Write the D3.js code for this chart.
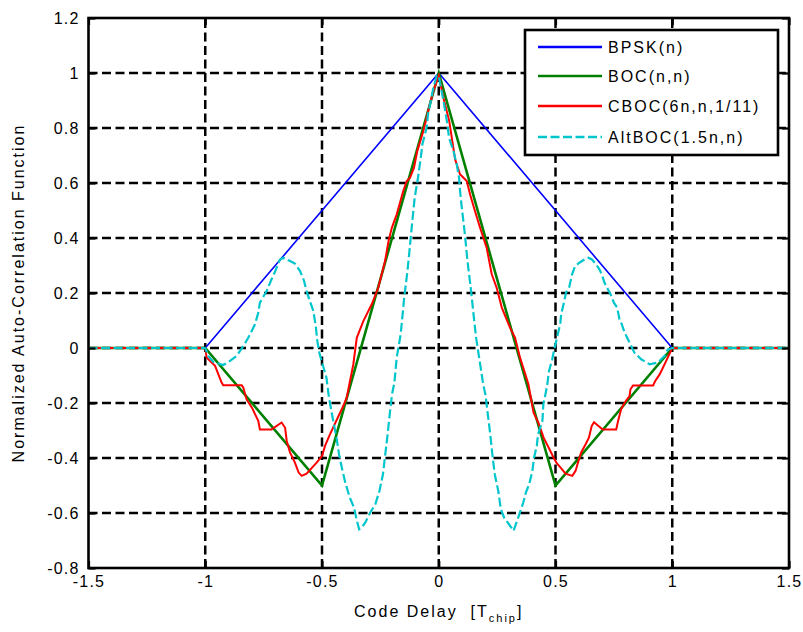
<!DOCTYPE html>
<html>
<head>
<meta charset="utf-8">
<script src="https://cdn.jsdelivr.net/npm/d3@7"></script>
<style>
  body { margin: 0; background: #fff; }
  svg text { font-family: "Liberation Sans", Arial, sans-serif; fill: #000; }
</style>
</head>
<body>
<div id="chart"></div>
<script>
// tick values as drawn on the axes
const xTicks = [-1.5, -1, -0.5, 0, 0.5, 1, 1.5];
const yTicks = [-0.8, -0.6, -0.4, -0.2, 0, 0.2, 0.4, 0.6, 0.8, 1, 1.2];

const seriesNames = ["BPSK(n)", "BOC(n,n)", "CBOC(6n,n,1/11)", "AltBOC(1.5n,n)"];

// [code delay, normalized ACF]
const bpskPts = [[-1.5, 0], [-1, 0], [0, 1], [1, 0], [1.5, 0]];

const bocPts = [[-1.5, 0], [-1, 0], [-0.5, -0.5], [0, 1], [0.5, -0.5], [1, 0], [1.5, 0]];

const cbocPts = [
  [-1.5, 0], [-1.0, 0], [-0.994, -0.035], [-0.958, -0.065], [-0.93, -0.126], [-0.923, -0.135],
  [-0.844, -0.135], [-0.837, -0.144], [-0.823, -0.187], [-0.80, -0.217], [-0.773, -0.265],
  [-0.766, -0.296], [-0.716, -0.296], [-0.673, -0.271], [-0.658, -0.29], [-0.651, -0.338],
  [-0.637, -0.38], [-0.616, -0.417], [-0.60, -0.453], [-0.587, -0.465], [-0.566, -0.457],
  [-0.523, -0.417], [-0.50, -0.393], [-0.487, -0.356], [-0.466, -0.314], [-0.409, -0.211],
  [-0.394, -0.18], [-0.366, -0.06], [-0.351, 0.037], [-0.323, 0.098], [-0.287, 0.159],
  [-0.259, 0.219], [-0.230, 0.316], [-0.215, 0.389], [-0.201, 0.437], [-0.180, 0.486],
  [-0.152, 0.571], [-0.137, 0.607], [-0.123, 0.619], [-0.106, 0.656], [-0.092, 0.716],
  [-0.066, 0.789], [-0.052, 0.837], [-0.040, 0.88], [-0.023, 0.935], [0, 0.99],
  [0.02, 0.91], [0.045, 0.825], [0.07, 0.686], [0.091, 0.632], [0.12, 0.607], [0.134, 0.559],
  [0.155, 0.498], [0.177, 0.437], [0.205, 0.365], [0.227, 0.268], [0.248, 0.219], [0.27, 0.147],
  [0.305, 0.074], [0.327, 0.037], [0.348, -0.035], [0.362, -0.072], [0.384, -0.132],
  [0.406, -0.235], [0.427, -0.272], [0.449, -0.326], [0.471, -0.363], [0.492, -0.399],
  [0.506, -0.42], [0.52, -0.433], [0.543, -0.457], [0.572, -0.465], [0.586, -0.447],
  [0.596, -0.417], [0.61, -0.38], [0.629, -0.35], [0.643, -0.326], [0.655, -0.284],
  [0.665, -0.27], [0.702, -0.296], [0.76, -0.296], [0.768, -0.265], [0.781, -0.223],
  [0.796, -0.199], [0.817, -0.175], [0.821, -0.15], [0.832, -0.136], [0.918, -0.136],
  [0.927, -0.12], [0.946, -0.096], [0.96, -0.072], [0.974, -0.047], [1.0, 0], [1.5, 0]
];

const altbocPts = [
  [-1.5, 0], [-1.0, 0], [-0.987, -0.029], [-0.966, -0.05], [-0.923, -0.062], [-0.894, -0.047],
  [-0.866, -0.029], [-0.837, 0.007], [-0.816, 0.037], [-0.801, 0.062], [-0.787, 0.086],
  [-0.773, 0.128], [-0.766, 0.165], [-0.737, 0.207], [-0.716, 0.25], [-0.70, 0.28],
  [-0.68, 0.322], [-0.666, 0.328], [-0.637, 0.316], [-0.616, 0.307], [-0.594, 0.28],
  [-0.577, 0.244], [-0.566, 0.207], [-0.552, 0.171], [-0.537, 0.135], [-0.526, 0.074],
  [-0.52, 0.025], [-0.51, -0.023], [-0.493, -0.072], [-0.481, -0.108], [-0.47, -0.181],
  [-0.452, -0.265], [-0.438, -0.326], [-0.427, -0.387], [-0.412, -0.447], [-0.40, -0.49],
  [-0.381, -0.544], [-0.363, -0.58], [-0.352, -0.623], [-0.341, -0.659], [-0.33, -0.653],
  [-0.315, -0.635], [-0.294, -0.599], [-0.272, -0.569], [-0.254, -0.52], [-0.239, -0.459],
  [-0.229, -0.387], [-0.219, -0.314], [-0.21, -0.241], [-0.20, -0.168], [-0.19, -0.126],
  [-0.18, -0.035], [-0.163, 0.05], [-0.148, 0.183], [-0.134, 0.28], [-0.124, 0.365],
  [-0.116, 0.437], [-0.103, 0.547], [-0.089, 0.619], [-0.077, 0.692], [-0.07, 0.741],
  [-0.052, 0.801], [-0.046, 0.85], [-0.034, 0.898], [-0.023, 0.947], [-0.009, 0.989], [0, 0.99],
  [0.012, 0.935], [0.023, 0.886], [0.037, 0.813], [0.044, 0.765], [0.063, 0.716], [0.077, 0.668],
  [0.087, 0.619], [0.09, 0.583], [0.097, 0.523], [0.112, 0.413], [0.123, 0.316], [0.137, 0.219],
  [0.149, 0.122], [0.16, 0.037], [0.173, -0.035], [0.19, -0.13], [0.2, -0.17], [0.21, -0.24],
  [0.22, -0.31], [0.23, -0.39], [0.24, -0.46], [0.255, -0.52], [0.266, -0.587], [0.28, -0.617],
  [0.30, -0.64], [0.32, -0.665], [0.345, -0.605], [0.362, -0.562], [0.373, -0.526],
  [0.387, -0.496], [0.401, -0.447], [0.408, -0.399], [0.42, -0.356], [0.425, -0.314],
  [0.444, -0.265], [0.448, -0.205], [0.457, -0.168], [0.465, -0.132], [0.472, -0.084],
  [0.486, -0.041], [0.496, 0.0], [0.51, 0.05], [0.521, 0.092], [0.524, 0.122], [0.536, 0.165],
  [0.545, 0.201], [0.559, 0.222], [0.571, 0.268], [0.584, 0.298], [0.602, 0.31], [0.624, 0.322],
  [0.641, 0.328], [0.656, 0.322], [0.674, 0.304], [0.688, 0.286], [0.698, 0.268], [0.71, 0.237],
  [0.721, 0.219], [0.736, 0.195], [0.75, 0.165], [0.764, 0.147], [0.774, 0.104], [0.784, 0.086],
  [0.795, 0.059], [0.81, 0.032], [0.824, 0.007], [0.838, -0.017], [0.867, -0.041],
  [0.903, -0.059], [0.939, -0.053], [0.967, -0.029], [0.981, -0.005], [1.0, 0], [1.5, 0]
];

// size and margins
const w = 803;
const h = 632;
const m = {left: 88.5, right: 14, top: 18, bottom: 64};

const xScale = d3.scaleLinear().domain([-1.5, 1.5]).range([m.left, w - m.right]);
const yScale = d3.scaleLinear().domain([-0.8, 1.2]).range([h - m.bottom, m.top]);

const svg = d3.select("#chart")
  .append("svg")
  .attr("width", w)
  .attr("height", h);

// dashed grid
const grid = svg.append("g")
  .attr("stroke", "#000")
  .attr("stroke-width", 2.5)
  .attr("stroke-dasharray", "9,4.5");

grid.selectAll(".vgrid")
  .data(xTicks.slice(1, -1))
  .enter()
  .append("line")
  .attr("x1", d => xScale(d)).attr("x2", d => xScale(d))
  .attr("y1", yScale(-0.8)).attr("y2", yScale(1.2));

grid.selectAll(".hgrid")
  .data(yTicks.slice(1, -1))
  .enter()
  .append("line")
  .attr("x1", xScale(-1.5)).attr("x2", xScale(1.5))
  .attr("y1", d => yScale(d)).attr("y2", d => yScale(d));

// curves
const line = d3.line().x(d => xScale(d[0])).y(d => yScale(d[1]));

const series = [
  {pts: bpskPts, color: "#0000ff", width: 1.6, dash: null},
  {pts: bocPts, color: "#008000", width: 2.6, dash: null},
  {pts: cbocPts, color: "#ff0000", width: 2, dash: null},
  {pts: altbocPts, color: "#00c6cc", width: 2.2, dash: "9,3.5"}
];

series.forEach(s => {
  svg.append("path")
    .datum(s.pts)
    .attr("fill", "none")
    .attr("stroke", s.color)
    .attr("stroke-width", s.width)
    .attr("stroke-dasharray", s.dash)
    .attr("d", line);
});

// axes with inward ticks
const fmt = d => String(d);

const xAxis = svg.append("g")
  .attr("transform", "translate(0," + (h - m.bottom) + ")")
  .call(d3.axisBottom(xScale).tickValues(xTicks).tickFormat(fmt).tickSize(-7).tickPadding(8).tickSizeOuter(0));

svg.append("g")
  .attr("transform", "translate(0," + m.top + ")")
  .call(d3.axisTop(xScale).tickValues(xTicks).tickFormat("").tickSize(-7).tickSizeOuter(0));

const yAxis = svg.append("g")
  .attr("transform", "translate(" + m.left + ",0)")
  .call(d3.axisLeft(yScale).tickValues(yTicks).tickFormat(fmt).tickSize(-7).tickPadding(9).tickSizeOuter(0));

svg.append("g")
  .attr("transform", "translate(" + (w - m.right) + ",0)")
  .call(d3.axisRight(yScale).tickValues(yTicks).tickFormat("").tickSize(-7).tickSizeOuter(0));

svg.selectAll(".domain").remove();
svg.selectAll(".tick line").attr("stroke", "#000").attr("stroke-width", 2.2);
svg.selectAll(".tick text")
  .style("font-size", "16px")
  .style("letter-spacing", "1.2px")
  .attr("fill", "#000");

// box
svg.append("rect")
  .attr("x", xScale(-1.5)).attr("y", yScale(1.2))
  .attr("width", xScale(1.5) - xScale(-1.5))
  .attr("height", yScale(-0.8) - yScale(1.2))
  .attr("fill", "none")
  .attr("stroke", "#000")
  .attr("stroke-width", 2.6);

// axis titles
const xLabel = svg.append("text")
  .attr("x", (xScale(-1.5) + xScale(1.5)) / 2)
  .attr("y", 617)
  .attr("text-anchor", "middle")
  .style("font-size", "16px")
  .style("letter-spacing", "2px")
  .style("white-space", "pre");
xLabel.append("tspan").text("Code Delay  [T");
xLabel.append("tspan").attr("dy", 5).style("font-size", "11px").text("chip");
xLabel.append("tspan").attr("dy", -5).text("]");

svg.append("text")
  .attr("transform", "translate(24," + ((yScale(1.2) + yScale(-0.8)) / 2) + ") rotate(-90)")
  .attr("text-anchor", "middle")
  .style("font-size", "16px")
  .style("letter-spacing", "2px")
  .text("Normalized Auto-Correlation Function");

// legend
const legend = svg.append("g");
legend.append("rect")
  .attr("x", 525).attr("y", 30)
  .attr("width", 253).attr("height", 125)
  .attr("fill", "#fff")
  .attr("stroke", "#000")
  .attr("stroke-width", 2.6);

const rowY = [47, 76, 106, 137];
series.forEach((s, i) => {
  legend.append("line")
    .attr("x1", 538).attr("x2", 602)
    .attr("y1", rowY[i]).attr("y2", rowY[i])
    .attr("stroke", s.color)
    .attr("stroke-width", 2.6)
    .attr("stroke-dasharray", s.dash);
  legend.append("text")
    .attr("x", 608).attr("y", rowY[i])
    .attr("dy", "0.36em")
    .style("font-size", "16px")
    .style("letter-spacing", "2px")
    .text(seriesNames[i]);
});
</script>
</body>
</html>
